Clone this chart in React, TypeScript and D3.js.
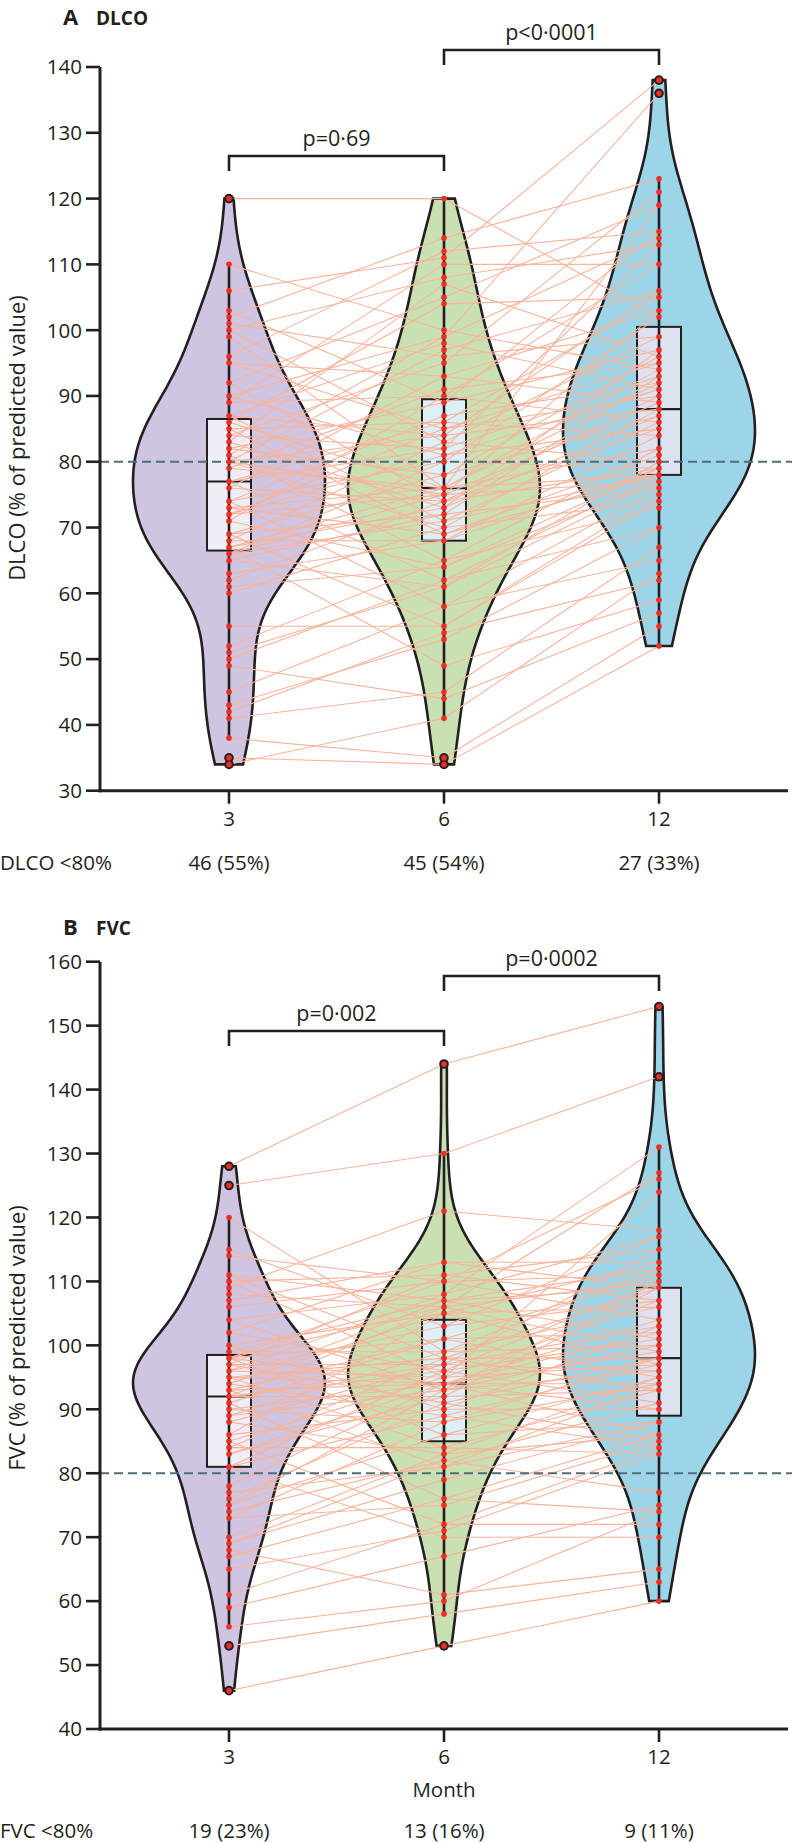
import React from 'react';
import * as d3 from 'd3';

const MONTHS = ['3', '6', '12'];

const DLCO_M3 = [120,110,106,103,102,101,100,100,99,96, 95,95,92,92,90,90,89,89,87,87, 87,86,86,85,85,84,84,83,83,82, 82,81,81,80,80,80,80,79,79,77, 77,77,76,76,74,74,74,73,73,72, 72,72,71,71,69,69,69,68,68,67, 67,67,66,66,66,65,65,63,62,61, 60,55,52,51,50,49,45,43,42,41, 38,35,34];
const DLCO_M6 = [120,100,111,89,114,96,83,108,76,112, 93,85,105,74,99,81,110,90,71,98, 84,104,76,86,69,95,82,107,73,89, 78,99,65,84,75,97,70,91,76,86, 62,82,93,74,80,58,87,76,69,85, 75,81,64,90,72,78,55,83,68,76, 73,49,80,71,75,61,72,68,74,64, 70,55,65,61,62,44,58,53,54,45, 35,34,41];
const DLCO_M12 = [102,94,138,115,123,99,99,113,119,115, 103,90,119,85,114,91,110,110,78,91, 106,105,94,84,78,121,113,96,87,97, 96,136,73,88,77,106,74,95,82,105, 78,93,89,79,102,65,92,78,81,95, 103,85,77,86,93,87,74,80,79,92, 97,59,79,86,89,80,76,84,90,79, 88,75,82,77,70,57,76,70,62,67, 55,52,63];

const FVC_M3 = [128,125,120,115,114,111,111,110,110,109, 108,107,106,104,104,102,102,100,100,99, 99,98,98,98,98,98,97,97,97,96, 96,96,95,95,95,94,94,94,93,93, 93,92,92,92,92,91,91,90,90,89, 89,88,88,86,86,85,85,84,84,83, 83,81,81,81,78,77,76,75,75,74, 73,73,70,69,69,68,67,65,61,59, 56,53,46];
const FVC_M6 = [144,130,99,103,110,107,98,111,95,121, 106,113,110,93,108,96,113,105,90,107, 99,110,94,101,86,106,97,111,91,103, 95,108,84,98,94,107,89,105,94,101, 81,97,106,92,96,76,101,94,88,99, 93,97,83,105,90,95,72,98,84,94, 92,70,96,89,94,81,91,86,93,82, 88,75,83,79,82,61,76,71,72,67, 60,58,53];
const FVC_M12 = [153,142,100,117,104,109,109,115,124,118, 110,109,126,96,117,101,113,113,90,101, 112,111,104,95,88,127,115,107,98,107, 107,131,83,98,86,112,84,106,94,111, 88,103,99,93,110,74,102,90,94,106, 110,96,86,97,103,97,84,93,93,102, 109,70,91,97,99,94,85,95,100,91, 98,85,95,88,77,65,86,83,72,75, 74,63,60];

const DLCO_TICKS = [30,40,50,60,70,80,90,100,110,120,130,140];
const FVC_TICKS = [40,50,60,70,80,90,100,110,120,130,140,150,160];
const DLCO_BELOW = ['46 (55%)', '45 (54%)', '27 (33%)'];
const FVC_BELOW = ['19 (23%)', '13 (16%)', '9 (11%)'];
const DLCO_P = ['p=0·69', 'p<0·0001'];
const FVC_P = ['p=0·002', 'p=0·0002'];
const THRESHOLD = 80;

const VIOLIN_FILL = ['#CFC4E1', '#C9E0B3', '#9DD5E8'];
const BOX_FILL = ['#EFEDF6', '#DDF0F8', '#DDE2F1'];
const INK = '#231F20';
const LINE_COLOR = '#F8B49B';
const DOT_COLOR = '#EE2D24';
const DASH_COLOR = '#4F6E7D';
const FONT = "'Open Sans', 'Liberation Sans', sans-serif";

function stats(values: number[]) {
  const s = [...values].sort(d3.ascending);
  const q1 = d3.quantileSorted(s, 0.25)!;
  const med = d3.quantileSorted(s, 0.5)!;
  const q3 = d3.quantileSorted(s, 0.75)!;
  const iqr = q3 - q1;
  const lf = q1 - 1.5 * iqr;
  const uf = q3 + 1.5 * iqr;
  const inside = s.filter(v => v >= lf && v <= uf);
  const outl = Array.from(new Set(s.filter(v => v < lf || v > uf)));
  const sd = d3.deviation(s)!;
  const h = 1.2 * 0.9 * Math.min(sd, iqr / 1.34) * Math.pow(s.length, -0.2);
  const lo = s[0];
  const hi = s[s.length - 1];
  const pts: { v: number; d: number }[] = [];
  const N = 160;
  for (let i = 0; i <= N; i++) {
    const v = lo + ((hi - lo) * i) / N;
    let d = 0;
    for (const x of s) {
      const z = (v - x) / h;
      d += Math.exp(-0.5 * z * z);
    }
    pts.push({ v, d });
  }
  const maxD = d3.max(pts, p => p.d)!;
  return { q1, med, q3, wLo: inside[0], wHi: inside[inside.length - 1], outl, pts, maxD, uniq: Array.from(new Set(s)) };
}

interface PanelProps {
  letter: string;
  name: string;
  yLabel: string;
  belowLabel: string;
  series: number[][];
  below: string[];
  pvals: string[];
  ticks: number[];
  domain: [number, number];
  yTop: number;
  yBottom: number;
  titleY: number;
  labelY: number;
  bracketY: [number, number];
  showMonth: boolean;
}

function Panel(p: PanelProps) {
  const x = d3.scalePoint<string>().domain(MONTHS).range([100, 788]).padding(0.6);
  const y = d3.scaleLinear().domain(p.domain).range([p.yBottom, p.yTop]);
  const st = p.series.map(stats);
  const halfMax = 96;
  const boxHalf = 22;
  const n = p.series[0].length;
  const base = y(p.domain[0]);

  return (
    <g fontFamily={FONT} fill={INK}>
      {/* title */}
      <text x={63} y={p.titleY} fontSize={22} fontWeight={700}>{p.letter}</text>
      <text x={96} y={p.titleY} fontSize={19} fontWeight={700}>{p.name}</text>

      {/* violins */}
      {st.map((s, i) => {
        const cx = x(MONTHS[i])!;
        const area = d3
          .area<{ v: number; d: number }>()
          .x0(d => cx - (halfMax * d.d) / s.maxD)
          .x1(d => cx + (halfMax * d.d) / s.maxD)
          .y(d => y(d.v))
          .curve(d3.curveBasis);
        return <path key={'v' + i} d={area(s.pts)!} fill={VIOLIN_FILL[i]} stroke={INK} strokeWidth={2.6} />;
      })}

      {/* boxes */}
      {st.map((s, i) => {
        const cx = x(MONTHS[i])!;
        return (
          <g key={'b' + i}>
            <rect x={cx - boxHalf} y={y(s.q3)} width={boxHalf * 2} height={y(s.q1) - y(s.q3)} fill={BOX_FILL[i]} stroke={INK} strokeWidth={2} />
            <line x1={cx - boxHalf} x2={cx + boxHalf} y1={y(s.med)} y2={y(s.med)} stroke={INK} strokeWidth={2.2} />
          </g>
        );
      })}

      {/* connecting lines */}
      {d3.range(n).map(k => (
        <g key={'l' + k} stroke={LINE_COLOR} strokeWidth={1.1} fill="none">
          <line x1={x(MONTHS[0])} y1={y(p.series[0][k])} x2={x(MONTHS[1])} y2={y(p.series[1][k])} />
          <line x1={x(MONTHS[1])} y1={y(p.series[1][k])} x2={x(MONTHS[2])} y2={y(p.series[2][k])} />
        </g>
      ))}

      {/* threshold */}
      <line x1={100} x2={792} y1={y(THRESHOLD)} y2={y(THRESHOLD)} stroke={DASH_COLOR} strokeWidth={2} strokeDasharray="9 5" />

      {/* whiskers & dots */}
      {st.map((s, i) => {
        const cx = x(MONTHS[i])!;
        return (
          <g key={'w' + i}>
            <line x1={cx} x2={cx} y1={y(s.wLo)} y2={y(s.wHi)} stroke={INK} strokeWidth={2.6} />
            {s.outl.map(v => (
              <circle key={'o' + v} cx={cx} cy={y(v)} r={4.8} fill={INK} />
            ))}
            {s.uniq.map(v => (
              <circle key={'d' + v} cx={cx} cy={y(v)} r={2.8} fill={DOT_COLOR} />
            ))}
          </g>
        );
      })}

      {/* brackets */}
      {[0, 1].map(j => {
        const xa = x(MONTHS[j])!;
        const xb = x(MONTHS[j + 1])!;
        const by = p.bracketY[j];
        return (
          <g key={'p' + j}>
            <path d={`M${xa},${by + 15}V${by}H${xb}V${by + 15}`} fill="none" stroke={INK} strokeWidth={2.6} />
            <text x={(xa + xb) / 2} y={by - 10} fontSize={21.5} textAnchor="middle">{p.pvals[j]}</text>
          </g>
        );
      })}

      {/* axes */}
      <line x1={100} x2={100} y1={y(p.domain[1])} y2={base + 1.5} stroke={INK} strokeWidth={3} />
      <line x1={98.5} x2={788} y1={base} y2={base} stroke={INK} strokeWidth={3} />
      {p.ticks.map(t => (
        <g key={'t' + t}>
          <line x1={86} x2={100} y1={y(t)} y2={y(t)} stroke={INK} strokeWidth={2.6} />
          <text x={82} y={y(t)} dy="0.36em" fontSize={20.5} textAnchor="end">{t}</text>
        </g>
      ))}
      {MONTHS.map(m => (
        <g key={'x' + m}>
          <line x1={x(m)} x2={x(m)} y1={base} y2={base + 13} stroke={INK} strokeWidth={2.6} />
          <text x={x(m)} y={base + 35} fontSize={20.5} textAnchor="middle">{m}</text>
        </g>
      ))}
      {p.showMonth && (
        <text x={x(MONTHS[1])} y={base + 68} fontSize={20.5} textAnchor="middle">Month</text>
      )}
      <text x={0} y={base + (p.showMonth ? 109 : 79)} fontSize={20.5}>{p.belowLabel}</text>
      {MONTHS.map((m, i) => (
        <text key={'bl' + m} x={x(m)} y={base + (p.showMonth ? 109 : 79)} fontSize={20.5} textAnchor="middle">{p.below[i]}</text>
      ))}

      {/* y label */}
      <text transform={`translate(25,${p.labelY}) rotate(-90)`} fontSize={22} textAnchor="middle">{p.yLabel}</text>
    </g>
  );
}

export default function App() {
  return (
    <svg width={792} height={1843} style={{ position: 'absolute', left: 0, top: 0, background: '#fff' }}>
      <rect width={792} height={1843} fill="#fff" />
      <Panel
        letter="A"
        name="DLCO"
        yLabel="DLCO (% of predicted value)"
        belowLabel="DLCO <80%"
        series={[DLCO_M3, DLCO_M6, DLCO_M12]}
        below={DLCO_BELOW}
        pvals={DLCO_P}
        ticks={DLCO_TICKS}
        domain={[30, 140]}
        yTop={67}
        yBottom={790.7}
        titleY={25}
        labelY={438}
        bracketY={[156, 50]}
        showMonth={false}
      />
      <Panel
        letter="B"
        name="FVC"
        yLabel="FVC (% of predicted value)"
        belowLabel="FVC <80%"
        series={[FVC_M3, FVC_M6, FVC_M12]}
        below={FVC_BELOW}
        pvals={FVC_P}
        ticks={FVC_TICKS}
        domain={[40, 160]}
        yTop={961.7}
        yBottom={1729}
        titleY={935}
        labelY={1338}
        bracketY={[1031, 976]}
        showMonth={true}
      />
    </svg>
  );
}
